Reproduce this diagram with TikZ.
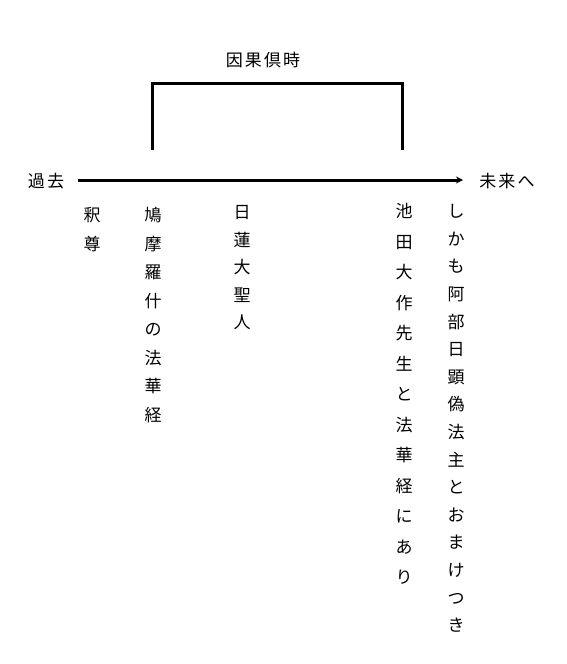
\documentclass[tikz,border=0pt]{standalone}
\usepackage{fontspec}
\setmainfont{Noto Sans CJK JP}
\usetikzlibrary{arrows.meta, positioning}
\tikzset{
  every picture/.style={line width=3pt},
  word/.style={font=\fontsize{17}{17}\selectfont\addfontfeature{LetterSpace=12}, inner sep=0pt},
  column/.style={font=\fontsize{17}{#1}\selectfont, align=center, anchor=north, inner sep=0pt},
  column/.default=28.5,
  timeline/.style={-{Stealth[length=7pt, width=7pt]}},
}

\begin{document}
\begin{tikzpicture}[x=1pt, y=-1pt]
  \useasboundingbox (0,0) rectangle (566,664);
  % header and time axis
  \node[word] (title) at (263, 60) {因果倶時};
  \node[word] (past) at (46, 181) {過去};
  \node[word] (future) at (507, 181) {未来へ};
  \coordinate (t0) at (78, 180);
  \coordinate (t1) at (463, 180);
  \draw[timeline] (t0) -- (t1);
  % bracket
  \coordinate (bl) at (152, 150);
  \coordinate (br) at (402, 150);
  \draw (bl) -- (bl |- 0,83) -- (br |- 0,83) -- (br);
  % columns
  \node[column] (shakuson) at (92, 206) {釈\\尊};
  \node[column] (kumaraju) at (153, 206) {鳩\\摩\\羅\\什\\の\\法\\華\\経};
  \node[column=27.5] (nichiren) at (242, 204) {日\\蓮\\大\\聖\\人};
  \node[column=30.5] (ikeda) at (404, 202) {池\\田\\大\\作\\先\\生\\と\\法\\華\\経\\に\\あ\\り};
  \node[column=27.6] (abe) at (456, 203) {し\\か\\も\\阿\\部\\日\\顕\\偽\\法\\主\\と\\お\\ま\\け\\つ\\き};
\end{tikzpicture}
\end{document}
